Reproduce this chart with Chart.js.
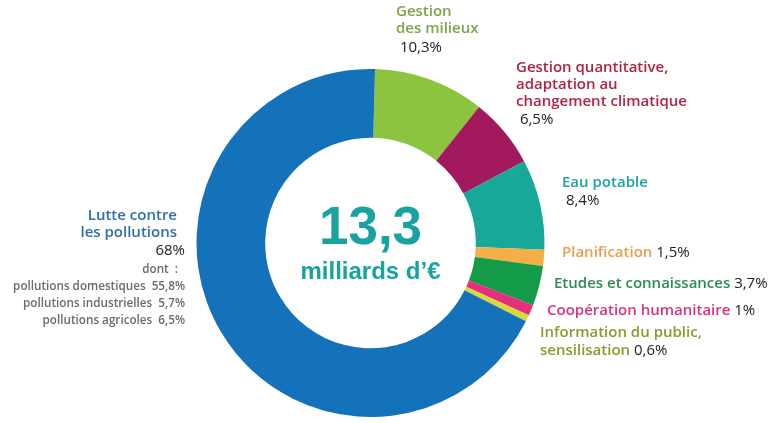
<!DOCTYPE html>
<html><head><meta charset="utf-8">
<script src="https://cdn.jsdelivr.net/npm/chart.js@4/dist/chart.umd.min.js"></script>
<style>html,body{margin:0;padding:0;background:#fff;}#wrap{width:777px;height:423px;position:relative;}</style>
</head><body><div id="wrap"><canvas id="c" width="777" height="423"></canvas></div>
<script>
const categories = ["Gestion des milieux","Gestion quantitative, adaptation au changement climatique","Eau potable","Planification","Etudes et connaissances","Coopération humanitaire","Information du public, sensilisation","Lutte contre les pollutions"];
const shares = [10.3, 6.5, 8.4, 1.5, 3.7, 1, 0.6, 68];
const sliceColors = ["#8CC43F","#A3195E","#18A89A","#F6AE47","#139B48","#E72D7C","#D6DA3A","#1472BA"];
const totalLabel = "13,3";
const totalUnit = "milliards d’€";
const pollutionDetail = ["pollutions domestiques  55,8%","pollutions industrielles  5,7%","pollutions agricoles  6,5%"];

const F = "'Open Sans', 'Noto Sans', sans-serif";
const labelsPlugin = {
  id: 'labelsPlugin',
  afterDraw(chart) {
    const ctx = chart.ctx;
    const m = chart.getDatasetMeta(0).data[0];
    const cx = m.x, cy = m.y;
    ctx.save();
    ctx.textBaseline = 'alphabetic';
    ctx.fillStyle = '#17A3A0';
    ctx.textAlign = 'center';
    ctx.font = "bold 53px 'Liberation Sans', Arial, sans-serif";
    ctx.fillText(totalLabel, cx, cy + 1);
    ctx.font = "bold 24px 'Liberation Sans', Arial, sans-serif";
    ctx.fillText(totalUnit, cx, cy + 36);

    const fsb = "600 15px " + F;
    const fsn = "15px " + F;
    const lines = [
      ["Gestion", 396, 16, "#7FA24A"],
      ["des milieux", 396, 33, "#7FA24A"],
      [" 10,3%", 396, 52, "#222"],
      ["Gestion quantitative,", 516, 72, "#B1233F"],
      ["adaptation au", 516, 89, "#B1233F"],
      ["changement climatique", 516, 106, "#B1233F"],
      [" 6,5%", 516, 124, "#222"],
      ["Eau potable", 562, 187, "#1BA39C"],
      [" 8,4%", 562, 205, "#222"],
    ];
    ctx.textAlign = 'left';
    lines.forEach(l => { ctx.fillStyle = l[3]; ctx.font = l[3] === "#222" ? fsn : fsb; ctx.fillText(l[0], l[1], l[2]); });

    const pair = (a, ca, b, x, y) => {
      ctx.font = fsb; ctx.fillStyle = ca; ctx.fillText(a, x, y);
      const w = ctx.measureText(a).width;
      ctx.font = fsn; ctx.fillStyle = "#222"; ctx.fillText(b, x + w, y);
    };
    pair("Planification", "#E89E4A", " 1,5%", 562, 257);
    pair("Etudes et connaissances", "#2B8B58", " 3,7%", 554, 288);
    pair("Coopération humanitaire", "#D7337F", " 1%", 547, 315);
    ctx.font = fsb; ctx.fillStyle = "#8A9A2C"; ctx.fillText("Information du public,", 540, 337);
    pair("sensilisation", "#8A9A2C", " 0,6%", 540, 355);

    ctx.textAlign = 'right';
    ctx.font = fsb; ctx.fillStyle = "#2F6FA9";
    ctx.fillText("Lutte contre", 177, 220);
    ctx.fillText("les pollutions", 177, 237);
    ctx.font = fsn; ctx.fillStyle = "#222";
    ctx.fillText("68%", 185, 255);
    ctx.font = "600 11.7px " + F; ctx.fillStyle = "#6a6a6a";
    ctx.fillText("dont  :", 178, 273);
    pollutionDetail.forEach((t, i) => ctx.fillText(t, 185, 290 + i * 17));
    ctx.restore();
  }
};

new Chart(document.getElementById('c'), {
  type: 'doughnut',
  data: { labels: categories, datasets: [{ data: shares, backgroundColor: sliceColors, borderWidth: 0 }] },
  options: {
    responsive: false, animation: false, rotation: 1.5, cutout: '60.5%',
    layout: { padding: { top: 69, bottom: 6, left: 100, right: 136 } },
    plugins: { legend: { display: false }, tooltip: { enabled: false } }
  },
  plugins: [labelsPlugin]
});
</script></body></html>
